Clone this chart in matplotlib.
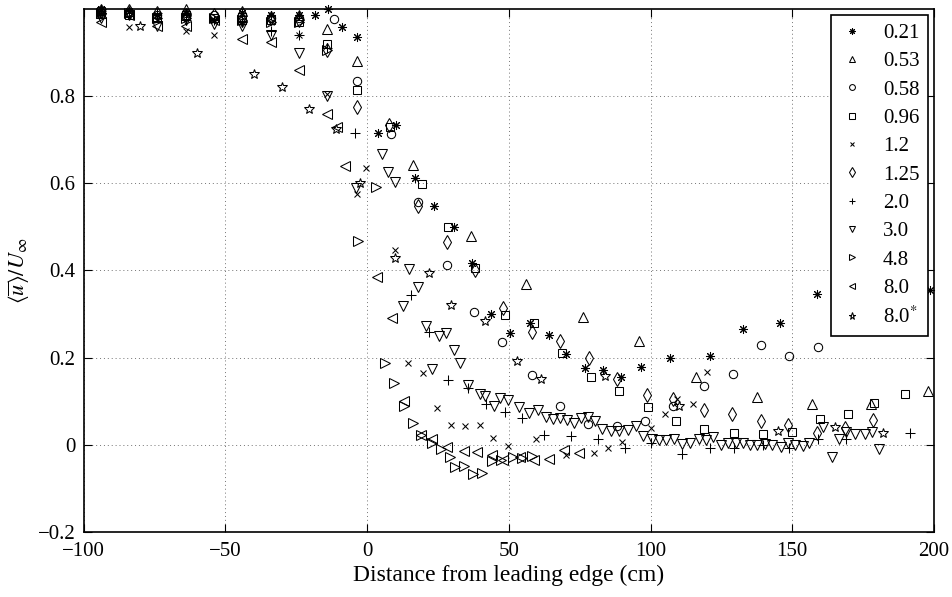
import matplotlib
matplotlib.use('Agg')
import matplotlib.pyplot as plt

plt.rcParams['font.family'] = 'serif'
plt.rcParams['font.serif'] = ['Liberation Serif', 'DejaVu Serif']
plt.rcParams['mathtext.fontset'] = 'stix'

# Re = 0.21 (asterisk)
x_021 = [-94, -84, -74, -64, -54, -44, -34, -24, -18.4, -13.8, -8.8, -3.5, 3.9, 10.1, 17, 23.7, 30.7, 37,
         43.8, 50.5, 57.6, 64, 70, 76.7, 83.4, 89.7, 96.7, 107, 121, 132.5, 145.6, 158.7, 198.5]
y_021 = [1.0, 0.995, 0.985, 0.99, 0.975, 0.99, 0.985, 0.985, 0.985, 1.0, 0.958, 0.935, 0.715, 0.734, 0.613,
         0.549, 0.50, 0.418, 0.30, 0.256, 0.28, 0.251, 0.208, 0.177, 0.171, 0.155, 0.178, 0.20, 0.203, 0.265,
         0.28, 0.345, 0.356]

x_053 = [-94, -84, -64, -44, -24, -14, -3.5, 16.3, 36.7, 56, 76, 95.8, 116, 137.4, 157, 177.7, 198]
y_053 = [0.99, 0.995, 1.0, 0.995, 0.985, 0.955, 0.88, 0.643, 0.48, 0.37, 0.293, 0.238, 0.155, 0.11, 0.094,
         0.094, 0.123]

x_058 = [-94, -84, -74, -64, -54, -44, -34, -24, -11.7, -3.5, 8.5, 18, 28.3, 37.8, 47.7, 58, 68.2, 78, 88.3,
         98, 108, 119, 129, 138.9, 149, 159]
y_058 = [0.99, 0.99, 0.985, 0.99, 0.985, 0.985, 0.98, 0.98, 0.976, 0.834, 0.713, 0.558, 0.413, 0.304, 0.235,
         0.16, 0.089, 0.048, 0.042, 0.055, 0.09, 0.134, 0.162, 0.229, 0.203, 0.224]

x_096 = [-94, -84, -74, -64, -54, -44, -34, -24, -14, -3.5, 7.9, 19.4, 28.7, 38, 48.8, 59, 68.6, 79, 89, 99,
         109, 119, 129.3, 139.6, 149.8, 159.7, 169.6, 179, 189.7]
y_096 = [0.995, 0.985, 0.98, 0.985, 0.98, 0.975, 0.975, 0.97, 0.92, 0.813, 0.73, 0.599, 0.50, 0.405, 0.297,
         0.28, 0.21, 0.155, 0.123, 0.087, 0.055, 0.037, 0.028, 0.025, 0.03, 0.06, 0.071, 0.096, 0.117]

x_12 = [-94, -84, -74, -64, -54, -44, -34, -24, -14, -3.5, -0.4, 9.9, 14.5, 19.8, 24.7, 29.7, 34.6, 39.9,
        44.5, 49.8, 59.7, 70, 80, 85, 90, 100, 105, 109.5, 115, 120]
y_12 = [0.99, 0.958, 0.975, 0.95, 0.94, 0.97, 0.97, 0.94, 0.805, 0.576, 0.636, 0.446, 0.188, 0.164, 0.085,
        0.046, 0.042, 0.046, 0.015, -0.002, 0.013, -0.024, -0.018, -0.007, 0.006, 0.038, 0.071, 0.105,
        0.094, 0.167]

x_125 = [-94, -84, -74, -64, -54, -44, -34, -24, -14, -3.5, 7.8, 18, 28.3, 38, 48, 58.3, 68.2, 78.4, 88.3,
         98.6, 108, 118.7, 128.6, 138.9, 148.4, 158.7, 168.5, 178.4]
y_125 = [0.995, 0.995, 0.99, 0.985, 0.985, 0.975, 0.98, 0.975, 0.905, 0.775, 0.734, 0.548, 0.466, 0.40,
         0.314, 0.258, 0.238, 0.199, 0.15, 0.115, 0.105, 0.08, 0.071, 0.055, 0.046, 0.027, 0.038, 0.057]

x_20 = [-94, -84, -74, -64, -54, -44, -34, -24, -14, -4.2, 15.5, 21.9, 28.6, 35.7, 42, 48.8, 54.8, 62.5, 72,
        81.6, 91, 100, 111, 121, 129.3, 139.6, 149, 159, 169, 191.5]
y_20 = [0.995, 0.99, 0.99, 0.975, 0.975, 0.97, 0.95, 0.94, 0.91, 0.715, 0.343, 0.259, 0.149, 0.13, 0.094,
        0.075, 0.062, 0.023, 0.021, 0.013, -0.007, 0.004, -0.021, -0.007, -0.007, 0.0, -0.007, 0.013, 0.013,
        0.027]

x_30 = [-94, -84, -74, -64, -54, -44, -34, -24, -14, -3.8, 5.2, 7.5, 9.9, 12.7, 14.8, 18, 20.8, 23, 25.4,
        27.9, 30.7, 32.9, 35.7, 39.9, 41.7, 44.9, 47, 49.8, 53.7, 57, 60.4, 63, 65.5, 68, 70.5, 73, 75.5, 78,
        80.5, 83, 86, 89, 92, 94.7, 97.5, 100.4, 103, 105.6, 108.3, 111, 114, 117, 119.6, 122, 125, 127.5,
        130, 132.5, 135, 137.5, 140.5, 143, 146, 148.5, 151, 153.8, 156, 161, 164, 166.5, 169, 172, 175.6,
        178, 180.5]
y_30 = [0.98, 0.985, 0.96, 0.975, 0.965, 0.96, 0.94, 0.90, 0.80, 0.59, 0.668, 0.626, 0.603, 0.318, 0.404,
        0.363, 0.272, 0.174, 0.249, 0.256, 0.217, 0.187, 0.137, 0.116, 0.113, 0.089, 0.107, 0.103, 0.087,
        0.073, 0.08, 0.064, 0.06, 0.062, 0.057, 0.05, 0.062, 0.064, 0.055, 0.037, 0.032, 0.032, 0.033, 0.043,
        0.02, 0.013, 0.012, 0.012, 0.013, 0.002, 0.003, 0.013, 0.01, 0.018, 0.0, 0.003, 0.005, 0.003, 0.0,
        0.0, 0.002, 0.0, -0.006, 0.004, 0.0, -0.002, 0.004, 0.04, -0.027, 0.013, 0.03, 0.025, 0.025, 0.03,
        -0.01]

x_48 = [-94, -84, -74, -64, -54, -44, -34, -24, -14, -3.2, 3.1, 6.4, 9.5, 13, 16.3, 19, 23, 26, 29.3, 31,
        34.3, 37.5, 40.6, 44.2, 47.3, 51.3, 54.5, 58]
y_48 = [0.99, 0.99, 0.98, 0.98, 0.98, 0.975, 0.97, 0.97, 0.905, 0.468, 0.592, 0.188, 0.142, 0.09, 0.05,
        0.023, 0.005, -0.01, -0.029, -0.052, -0.048, -0.066, -0.064, -0.037, -0.036, -0.029, -0.03, -0.025]

x_80 = [-94, -84, -74, -64, -54, -44, -34, -24, -14, -10.6, -7.8, 3.5, 8.8, 13, 19, 23, 28.2, 34, 38.8,
        44.2, 47.8, 54, 58.8, 64.3, 69.6, 74.6]
y_80 = [0.97, 0.985, 0.96, 0.96, 0.975, 0.93, 0.925, 0.86, 0.76, 0.73, 0.64, 0.384, 0.292, 0.10, 0.023,
        0.013, -0.004, -0.014, -0.016, -0.024, -0.036, -0.028, -0.035, -0.033, -0.012, -0.018]

x_80s = [-94, -80, -60, -40, -30, -20.5, -11, -2.5, 9.9, 21.9, 29.7, 41.7, 53, 61.5, 84, 110, 145, 165, 182]
y_80s = [0.995, 0.96, 0.90, 0.85, 0.82, 0.77, 0.725, 0.60, 0.428, 0.393, 0.32, 0.285, 0.192, 0.151, 0.158,
         0.09, 0.032, 0.041, 0.027]

labels = ['0.21', '0.53', '0.58', '0.96', '1.2', '1.25', '2.0', '3.0', '4.8', '8.0', '8.0$^{*}$']
markers = [(8, 2, 0), '^', 'o', 's', 'x', 'd', '+', 'v', '>', '<', '*']
sizes = [6.5, 6.5, 6, 5.5, 5, 7, 6.5, 6.5, 6.5, 6.5, 7.5]
xs = [x_021, x_053, x_058, x_096, x_12, x_125, x_20, x_30, x_48, x_80, x_80s]
ys = [y_021, y_053, y_058, y_096, y_12, y_125, y_20, y_30, y_48, y_80, y_80s]

fig = plt.figure(figsize=(9.52, 5.97), dpi=100)
ax = fig.add_axes([0.088, 0.109, 0.893, 0.876])

for x, y, m, s, lab in zip(xs, ys, markers, sizes, labels):
    ax.plot(x, y, linestyle='none', marker=m, markersize=s, markerfacecolor='none',
            markeredgecolor='k', markeredgewidth=0.75, color='k', label=lab, clip_on=False)

ax.set_xlim(-100, 200)
ax.set_ylim(-0.2, 1.0)
ax.set_xticks([-100, -50, 0, 50, 100, 150, 200])
ax.set_yticks([-0.2, 0, 0.2, 0.4, 0.6, 0.8])
ax.set_yticklabels(['\u22120.2', '0', '0.2', '0.4', '0.6', '0.8'])
ax.set_xticklabels(['\u2212100', '\u221250', '0', '50', '100', '150', '200'])
ax.tick_params(direction='in', top=True, right=True, labelsize=15, length=6, width=0.8)
ax.tick_params(axis='x', pad=7)
ax.tick_params(axis='y', pad=6)
ax.grid(True, linestyle=(0, (1, 3)), color='0.45', linewidth=0.7)
for sp in ax.spines.values():
    sp.set_linewidth(1.2)

ax.set_xlabel('Distance from leading edge (cm)', fontsize=17, labelpad=3)
ax.set_ylabel(r'$\langle\overline{u}\rangle/U_\infty$', fontsize=16)

leg = ax.legend(loc='upper right', bbox_to_anchor=(0.993, 0.9885), borderaxespad=0, fontsize=15,
                markerscale=0.7, labelspacing=0.42, handlelength=1.2, handletextpad=0.9,
                fancybox=False, edgecolor='k', framealpha=1, borderpad=0.4)
leg.get_frame().set_linewidth(1.2)

fig.savefig('out.png', dpi=100)
